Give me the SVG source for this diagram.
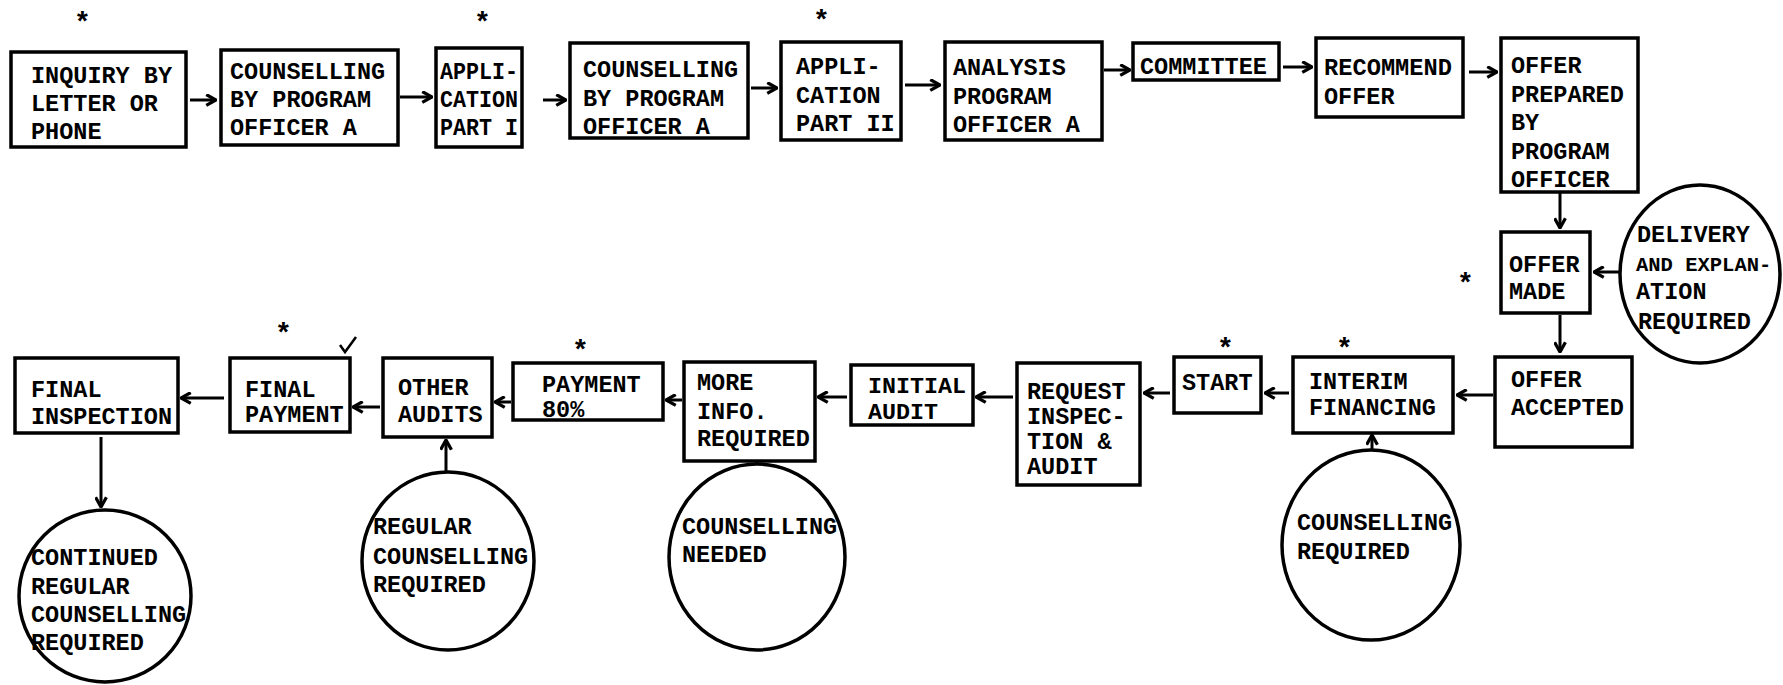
<svg xmlns="http://www.w3.org/2000/svg" width="1783" height="685" viewBox="0 0 1783 685">
<defs>
<style>
.b{fill:#fff;stroke:#000;stroke-width:3.5}
.c{fill:#fff;stroke:#000;stroke-width:3.5}
text{font-family:"Liberation Mono","DejaVu Sans Mono",monospace;font-weight:bold;font-size:23.5px;fill:#000}
.st{font-size:28px}
.sm{font-size:22px}
.xs{font-size:20.5px}
.cn{fill:none;stroke:#000;stroke-width:3}
</style>
<marker id="ah" viewBox="0 0 12 12" refX="11" refY="6" markerWidth="13" markerHeight="13" markerUnits="userSpaceOnUse" orient="auto"><path d="M2,1 L11,6 L2,11" fill="none" stroke="#000" stroke-width="3"/></marker>
</defs>
<rect width="1783" height="685" fill="#fff"/>

<g id="connectors">
<path class="cn" marker-end="url(#ah)" d="M190,100 H216"/>
<path class="cn" marker-end="url(#ah)" d="M400,97 H432"/>
<path class="cn" marker-end="url(#ah)" d="M543,100 H566"/>
<path class="cn" marker-end="url(#ah)" d="M751,88 H777"/>
<path class="cn" marker-end="url(#ah)" d="M905,85 H940"/>
<path class="cn" marker-end="url(#ah)" d="M1104,70 H1130"/>
<path class="cn" marker-end="url(#ah)" d="M1283,67 H1312"/>
<path class="cn" marker-end="url(#ah)" d="M1469,72 H1497"/>
<path class="cn" marker-end="url(#ah)" d="M1560,193 V228"/>
<path class="cn" marker-end="url(#ah)" d="M1621,272 H1594"/>
<path class="cn" marker-end="url(#ah)" d="M1560,315 V352"/>
<path class="cn" marker-end="url(#ah)" d="M1493,395 H1457"/>
<path class="cn" marker-end="url(#ah)" d="M1289,393 H1265"/>
<path class="cn" marker-end="url(#ah)" d="M1170,393 H1144"/>
<path class="cn" marker-end="url(#ah)" d="M1013,397 H976"/>
<path class="cn" marker-end="url(#ah)" d="M847,397 H818"/>
<path class="cn" marker-end="url(#ah)" d="M682,400 H666"/>
<path class="cn" marker-end="url(#ah)" d="M511,402 H495"/>
<path class="cn" marker-end="url(#ah)" d="M380,407 H353"/>
<path class="cn" marker-end="url(#ah)" d="M224,398 H181"/>
<path class="cn" marker-end="url(#ah)" d="M101,437 V507"/>
<path class="cn" marker-end="url(#ah)" d="M446,472 V440"/>
<path class="cn" marker-end="url(#ah)" d="M757,470 V463"/>
<path class="cn" marker-end="url(#ah)" d="M1372,452 V435"/>
</g>

<g id="n1"><rect class="b" x="11" y="52" width="175" height="95"/><text x="31" y="83">INQUIRY BY</text><text x="31" y="111">LETTER OR</text><text x="31" y="139">PHONE</text></g>
<g id="n2"><rect class="b" x="221" y="50" width="177" height="95"/><text x="230" y="79">COUNSELLING</text><text x="230" y="107">BY PROGRAM</text><text x="230" y="135">OFFICER A</text></g>
<g id="n3"><rect class="b" x="436" y="48" width="86" height="99"/><text x="440" y="79" textLength="78" lengthAdjust="spacingAndGlyphs">APPLI-</text><text x="440" y="107" textLength="78" lengthAdjust="spacingAndGlyphs">CATION</text><text x="440" y="135" textLength="78" lengthAdjust="spacingAndGlyphs">PART I</text></g>
<g id="n4"><rect class="b" x="570" y="43" width="178" height="95"/><text x="583" y="77">COUNSELLING</text><text x="583" y="106">BY PROGRAM</text><text x="583" y="134">OFFICER A</text></g>
<g id="n5"><rect class="b" x="781" y="42" width="120" height="98"/><text x="796" y="74">APPLI-</text><text x="796" y="103">CATION</text><text x="796" y="131">PART II</text></g>
<g id="n6"><rect class="b" x="945" y="42" width="157" height="98"/><text x="953" y="75">ANALYSIS</text><text x="953" y="104">PROGRAM</text><text x="953" y="132">OFFICER A</text></g>
<g id="n7"><rect class="b" x="1133" y="43" width="146" height="37"/><text x="1140" y="74">COMMITTEE</text></g>
<g id="n8"><rect class="b" x="1316" y="38" width="147" height="79"/><text x="1324" y="75" textLength="128" lengthAdjust="spacingAndGlyphs">RECOMMEND</text><text x="1324" y="104">OFFER</text></g>
<g id="n9"><rect class="b" x="1501" y="38" width="137" height="154"/><text x="1511" y="73">OFFER</text><text x="1511" y="102">PREPARED</text><text x="1511" y="130">BY</text><text x="1511" y="159">PROGRAM</text><text x="1511" y="187">OFFICER</text></g>
<g id="n10"><rect class="b" x="1501" y="232" width="89" height="81"/><text x="1509" y="272">OFFER</text><text x="1509" y="299">MADE</text></g>
<g id="n11"><ellipse class="c" cx="1700" cy="274" rx="80" ry="89"/><text x="1637" y="242">DELIVERY</text><text class="xs" x="1636" y="271">AND EXPLAN-</text><text x="1636" y="299">ATION</text><text x="1638" y="329">REQUIRED</text></g>
<g id="n12"><rect class="b" x="1495" y="357" width="137" height="90"/><text x="1511" y="387">OFFER</text><text x="1511" y="415">ACCEPTED</text></g>
<g id="n13"><rect class="b" x="1293" y="357" width="160" height="76"/><text x="1309" y="389">INTERIM</text><text x="1309" y="415">FINANCING</text></g>
<g id="n14"><ellipse class="c" cx="1371" cy="545" rx="89" ry="95"/><text x="1297" y="530">COUNSELLING</text><text x="1297" y="559">REQUIRED</text></g>
<g id="n15"><rect class="b" x="1174" y="357" width="87" height="56"/><text x="1182" y="390">START</text></g>
<g id="n16"><rect class="b" x="1017" y="363" width="123" height="122"/><text x="1027" y="399">REQUEST</text><text x="1027" y="424">INSPEC-</text><text x="1027" y="449">TION &amp;</text><text x="1027" y="474">AUDIT</text></g>
<g id="n17"><rect class="b" x="851" y="365" width="122" height="60"/><text class="sm" x="868" y="393" textLength="98" lengthAdjust="spacingAndGlyphs">INITIAL</text><text class="sm" x="868" y="419" textLength="70" lengthAdjust="spacingAndGlyphs">AUDIT</text></g>
<g id="n18"><rect class="b" x="684" y="362" width="131" height="99"/><text x="697" y="390">MORE</text><text x="697" y="419">INFO.</text><text x="697" y="446">REQUIRED</text></g>
<g id="n19"><ellipse class="c" cx="757" cy="557" rx="88" ry="93"/><text x="682" y="534">COUNSELLING</text><text x="682" y="562">NEEDED</text></g>
<g id="n20"><rect class="b" x="513" y="363" width="150" height="57"/><text x="542" y="392">PAYMENT</text><text x="542" y="417">80%</text></g>
<g id="n21"><rect class="b" x="383" y="358" width="109" height="79"/><text x="398" y="395">OTHER</text><text x="398" y="422">AUDITS</text></g>
<g id="n22"><ellipse class="c" cx="448" cy="561" rx="86" ry="89"/><text x="373" y="534">REGULAR</text><text x="373" y="564">COUNSELLING</text><text x="373" y="592">REQUIRED</text></g>
<g id="n23"><rect class="b" x="230" y="358" width="120" height="74"/><text x="245" y="397">FINAL</text><text x="245" y="422">PAYMENT</text></g>
<g id="n24"><rect class="b" x="15" y="358" width="163" height="75"/><text x="31" y="397">FINAL</text><text x="31" y="424">INSPECTION</text></g>
<g id="n25"><ellipse class="c" cx="105" cy="596" rx="86" ry="86"/><text x="31" y="565">CONTINUED</text><text x="31" y="594">REGULAR</text><text x="31" y="622">COUNSELLING</text><text x="31" y="650">REQUIRED</text></g>

<g id="stars">
<text class="st" x="74" y="31">*</text>
<text class="st" x="474" y="31">*</text>
<text class="st" x="813" y="29">*</text>
<text class="st" x="1457" y="292">*</text>
<text class="st" x="1217" y="357">*</text>
<text class="st" x="1336" y="357">*</text>
<text class="st" x="572" y="359">*</text>
<text class="st" x="275" y="342">*</text>
</g>
<path d="M340,345 L345,352 L356,337" fill="none" stroke="#000" stroke-width="2.5"/>
</svg>
